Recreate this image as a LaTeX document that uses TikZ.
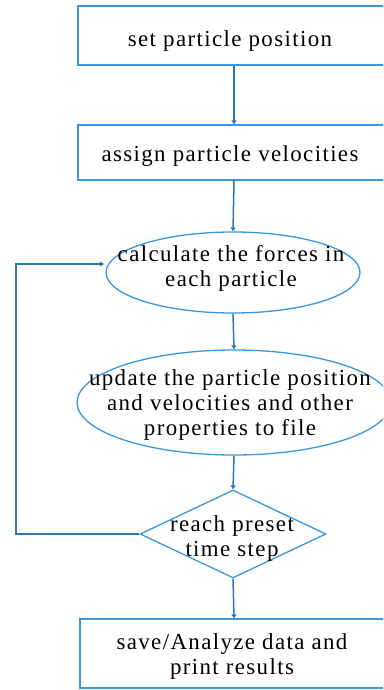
\documentclass[tikz,border=0pt]{standalone}
\usepackage{fontspec}
\setmainfont{Liberation Serif}[LetterSpace=6]
\usetikzlibrary{shapes.geometric,arrows.meta}
\definecolor{shapeblue}{RGB}{58,150,221}
\definecolor{linkblue}{RGB}{46,117,182}
\tikzset{
  boxnode/.style={draw=shapeblue,line width=1.3bp,rectangle,inner sep=0},
  ellnode/.style={draw=shapeblue,line width=1.3bp,ellipse,inner sep=0},
  dianode/.style={draw=shapeblue,line width=1.3bp,diamond,inner sep=0},
  txt/.style={align=center,font=\fontsize{23}{25.5}\selectfont},
  link/.style={draw=linkblue,line width=1.5bp,-{Triangle[length=4bp,width=5bp]}}
}
\begin{document}
\begin{tikzpicture}[x=1bp,y=-1bp]
\useasboundingbox (0,0) rectangle (383,690);
\clip (0,0) rectangle (383,690);
\node[boxnode,minimum width=312bp,minimum height=59bp] (b1) at (234,35.5) {};
\node[txt] at (230,41) {set particle position};
\node[boxnode,minimum width=312bp,minimum height=55bp] (b2) at (234,152.5) {};
\node[txt] at (230,156) {assign particle velocities};
\node[ellnode,minimum width=254bp,minimum height=81bp] (e1) at (233,272.5) {};
\node[txt] at (231,268.5) {calculate the forces in\\each particle};
\node[ellnode,minimum width=314bp,minimum height=105bp] (e2) at (234,402.5) {};
\node[txt] at (230,405) {update the particle position\\and velocities and other\\properties to file};
\node[dianode,minimum width=186bp,minimum height=88bp] (d) at (233,534) {};
\node[txt] at (232,538.5) {reach preset\\time step};
\node[boxnode,minimum width=308bp,minimum height=69bp] (b3) at (234,653.5) {};
\node[txt] at (232,656.5) {save/Analyze data and\\print results};
\coordinate (lp) at (16,264);
\coordinate (lt) at (104,264);
\draw[link] (b1.south) -- (b2.north);
\draw[link] (b2.south) -- (e1.north);
\draw[link] (e1.south) -- (e2.north);
\draw[link] (e2.south) -- (d.north);
\draw[link] (d.south) -- (b3.north);
\draw[link] (d.west) -| (lp) -- (lt);
\end{tikzpicture}
\end{document}
